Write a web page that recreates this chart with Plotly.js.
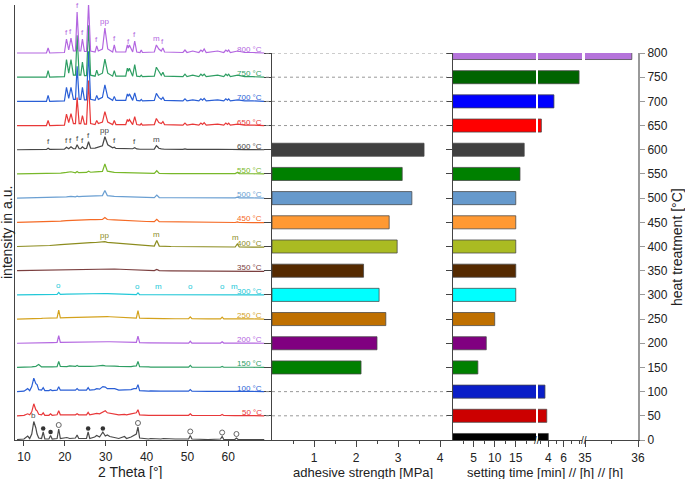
<!DOCTYPE html>
<html><head><meta charset="utf-8">
<script src="https://cdn.plot.ly/plotly-3.0.1.min.js"></script>
<style>html,body{margin:0;padding:0;background:#fff}#chart{width:685px;height:479px}</style>
</head><body><div id="chart"></div>
<script>
// ================= DATA =================
const temperatures = [0,50,100,150,200,250,300,350,400,450,500,550,600,650,700,750,800];
const adhesiveStrength = [null,null,null,2.12,2.50,2.71,2.55,2.18,2.98,2.79,3.33,3.10,3.62,null,null,null,null]; // MPa
const settingTimeMin = [240,228,214,6,8,10,15,15,15,15,15,16,17,186,284,480,2153]; // minutes

// XRD 2-theta grids
const thetaLow = [8.3,10.0,10.9,11.4,11.9,12.4,12.9,13.2,13.6,14.3,
 14.7,15.1,16.1,16.5,16.9,18.1,18.5,18.9,20.5,21.2,
 22.6,23.0,23.4,25.3,25.7,26.1,27.3,27.8,28.5,29.3,
 29.9,30.4,31.0,31.5,32.2,33.2,34.6,35.1,36.2,36.9,
 37.5,37.9,38.3,40.5,41.0,43.5,44.1,47.0,50.3,50.7,
 51.1,55.0,58.1,58.5,58.9,61.6,62.0,62.4,66.0,68.8];
const thetaMid = [8.3,12,15.5,15.9,16.3,19,20.4,21.5,22.6,23.0,
 23.4,24.3,25.3,25.8,26.3,27.5,29.2,29.8,30.4,32.1,
 35,37.1,40,41.9,42.5,43.1,46,50,55,61.7,
 62.2,62.7,66,68.8];
const thetaHigh = [8.3,12,15.5,15.9,16.3,19.9,20.4,20.95,21.5,22.1,
 22.6,23.0,23.5,23.9,24.3,24.8,25.3,25.8,26.3,27.4,
 27.8,28.2,29.2,29.8,30.5,31.7,32.1,32.5,34.9,35.3,
 35.55,35.8,36.6,37.1,37.6,38.4,38.7,39.0,41.9,42.4,
 42.7,43.0,43.6,44.0,44.4,48.9,49.4,49.9,51.3,52.8,
 53.3,53.7,54.1,54.6,57.4,58.9,59.4,59.8,60.1,60.5,
 62.3,64,66,68.8];

// XRD intensities (a.u.)
const xrd0 = [0.5,1,4,1.5,6,18.5,12,6,2,1.5, 8,1,1,4.5,1,1.5,11,1.5,2.5,1.5, 2,5,1.5,1.5,8,1.5,3,4.5,3,8, 4,5,3.5,3,2.5,1.5,3.5,1.5,3,5, 6,13,2,1,1.5,1,1.5,1,1,4.5, 1,0.5,1,3.5,0.5,0.5,2,0.5,0.5,0.3];
const xrd50 = [0,0.5,2,1,4,12,6,5,1.5,1, 3,0.5,0.5,2,0.5,1,5,1,1,1, 1,2,1,1,3.5,1,2,2.5,2,4, 5,3,2.5,2,2,1,1.5,1,2,2.5, 3,6,1,0.5,0.5,0.5,0.5,0.5,0.5,2, 0.5,0.3,0.3,1.3,0.3,0.2,0.5,0.2,0.2,0];
const xrd100 = [0,0.5,3,1,5,13.5,8,7,2,1.5, 4,1,1,2,1,1.5,5,1.5,1.5,1.5, 1.5,3,1.5,1.5,4,1.5,2,3,2.5,5, 4.5,3,3,2.5,3,1.5,2,1.5,2,3, 3,7,1,0.5,0.8,0.5,0.5,0.8,0.5,2, 0.5,0.3,0.3,1,0.3,0.2,0.5,0.2,0.2,0];
const xrd150 = [0,0,0.3,0.3,0.5,0.8,1,2,3,0.5, 0.8,0.5,0.5,0.8,0.5,0.8,6,1,0.8,1.5, 1,2,1,1,1.3,1,1.2,1.5,1.3,2, 1.5,1.5,1.3,2,1.3,1,0.8,0.8,0.8,1.3, 1.5,6,0.8,0.5,0.3,0.3,0.3,0.3,0.3,2, 0.3,0.2,0.2,1,0.2,0.2,0.3,0.2,0.2,0];
const xrd200 = [0,0,0.2,0.2,0.3,0.4,0.4,0.5,0.5,0.5, 0.6,0.6,0.7,0.7,0.7,0.8,7.5,0.8,1,1, 1.2,1.3,1.3,1.5,1.5,1.5,1.6,1.6,1.6,1.6, 1.6,1.5,1.5,1.4,1.3,1.2,1,0.9,0.8,0.8, 0.8,7.2,0.6,0.4,0.4,0.3,0.3,0.3,0.2,2, 0.2,0.2,0.2,1.5,0.2,0.1,0.2,0.1,0.1,0];
const xrd250 = [0,0,0.2,0.2,0.3,0.4,0.5,0.5,0.6,0.7, 0.8,0.8,1,1,1,1.2,9,1.2,1.5,1.6, 1.8,1.9,2,2.2,2.3,2.3,2.5,2.6,2.6,2.6, 2.5,2.4,2.3,2.2,2,1.8,1.4,1.3,1.1,1, 1,8.5,0.8,0.6,0.5,0.4,0.4,0.3,0.3,2.2, 0.3,0.2,0.2,2,0.2,0.1,0.2,0.1,0.1,0];
const xrd300 = [0,0,0,0,0.1,0.1,0.2,0.2,0.2,0.3, 0.3,0.3,0.4,0.4,0.4,0.5,2.5,0.5,0.7,0.8, 1,1.1,1.1,1.3,1.4,1.4,1.5,1.5,1.5,1.5, 1.4,1.3,1.2,1.1,1,0.8,0.5,0.4,0.3,0.3, 0.3,2,0.2,0.1,0.1,0.1,0.1,0.1,0,0.5, 0,0,0,0.3,0,0,0.3,0,0,0];
const xrd350 = [0,0.3,0.5,0.6,0.6,1,1.2,1.4,1.5,1.6, 1.6,1.7,1.8,1.8,1.8,1.9,2,2,1.9,1.7, 1.2,0.8,0.3,0.1,1.3,0.1,-0.1,-0.3,-0.4,-0.5, -0.4,-0.5,-0.6,-0.7];
const xrd400 = [0,0.3,0.8,1,1,1.8,2.3,2.7,3,3.2, 3.2,3.5,3.7,3.8,3.8,4,4.2,4.8,4.1,3.6, 2.3,1.6,0.8,0.4,6,0.4,0,-0.3,-0.4,-0.5, 2.5,-0.5,-0.6,-0.7];
const xrd450 = [0,0.2,0.5,0.7,0.7,1.2,1.6,1.9,2.1,2.2, 2.2,2.4,2.5,2.6,2.6,2.7,2.8,4.7,2.8,2.5, 1.6,1.2,0.8,0.6,3,0.6,0.4,0.2,0,-0.2, 0.5,-0.2,-0.3,-0.3];
const xrd500 = [0,0.2,0.3,0.5,0.4,0.8,1.2,1.8,1.3,2, 1.5,1.8,1.8,2.3,2,2.2,2.5,7.7,2.5,1.8, 1.2,1,0.6,0.5,3,0.6,0.4,0.3,0.3,0.3, 1,0.3,0.2,0];
const xrd550 = [0,0.2,0.3,0.8,0.4,0.8,1.5,2.2,1.2,2.5, 1.3,1.5,1.5,2.8,1.7,2,2.5,10,2.8,1.5, 1,1,0.5,0.5,3.2,0.6,0.4,0.3,0.3,0.3, 1.5,0.3,0.2,0];
const xrd600 = [0,0.3,0.3,1.5,0.4,0.5,2.5,1,3,1, 1,5,1,1,3,1.2,1.3,8,1.5,1.7, 2.2,2.5,4,13,5,2,2.5,1.3,1,1.5, 1,1.5,1,2,0.8,0.5,0.8,0.5,0.6,4, 3,1.5,0.8,1,0.5,0.3,0.8,0.3,0.5,0.3, 0.8,0.4,0.8,0.3,0.5,0.3,0.6,0.3,0.6,0.2, 0.5,0.2,0.2,0];
const xrd650 = [0,0,0,5,0, 0.5,11.5,3,12,2, 2,28,2,2,10, 1.5,1.5,45,2,1, 5,2,3.5,14,3.5, 1,5,1,1,6, 4,6,1,9,1, 0.5,2,0.5,1,7, 5,3,2,4,1, 0.5,2.5,0.5,1.5,0.5, 2.5,1.2,3,0.5,1.5, 0.5,2.5,1.2,2.5,0.5, 1.5,0.5,0.5,0];
const xrd700 = [0,0,0,6,0, 0.5,14,3,14,2, 2,35,2,2,14, 1.5,1.5,50,2,1, 6,2,4,16.5,4, 1,5,1,1,7.5, 5,7.5,1,8.5,1, 0.5,2,0.5,1,8, 6,4,2,4,1, 0.5,2.5,0.5,1.5,0.5, 2.5,1.2,3,0.5,1.5, 0.5,2.5,1.2,2.5,0.5, 1.5,0.5,0.5,0];
const xrd750 = [0,0,0,6.5,0, 0.5,17.5,4,17.5,2, 2,42,2,2,15, 1.5,1.5,52,2,1, 7,2,4,18,4, 1,6.5,1,1,9, 6,9,1,12.5,1, 0.5,2,0.5,1,10, 7,6,2,5,1, 0.5,3,0.5,2,0.5, 3,1.5,3,0.5,2, 0.5,3,1.5,3,0.5, 2,0.5,0.5,0];
const xrd800 = [0,0,0,5,0, 0.5,14,3,15,2, 2,41,2,2,14, 1.5,1.5,49,2,1, 7,2,4,25,4, 1,8,1,1,8, 5,8,1,12,1, 0.5,3,0.5,1,8, 6,4,2,5,1, 0.5,3,0.5,2,0.5, 3,1.5,4,0.5,2, 0.5,3,1.5,3,0.5, 2,0.5,0.5,0];

// Phase labels (2-theta position, text)
const labels800 = [[20.4,'f'],[21.5,'f'],[23.0,'f'],[24.3,'f'],[25.8,'f'],[27.8,'f'],[29.8,'pp'],[32.1,'f'],[35.55,'f'],[37.1,'f'],[42.4,'m'],[44.0,'f']];
const labels600 = [[15.9,'f'],[20.4,'f'],[21.5,'f'],[23.0,'f'],[24.3,'f'],[25.8,'f'],[29.8,'pp'],[32.1,'f'],[37.1,'f'],[42.4,'m']];
const labels400 = [[29.8,'pp'],[42.5,'m'],[61.7,'m']];
const labels300 = [[18.5,'o'],[37.9,'o'],[42.8,'m'],[50.7,'o'],[58.5,'o'],[61.6,'m']];
const labels0 = [[12.4,'b']];
const rawDotPos = [14.7,16.5,25.7,29.3];
const rawCirclePos = [18.5,37.9,50.7,58.5,62.0];

// ================= STYLE =================
const STACK = 800/387;           // a.u. -> axis units
const FONT = 'Arial, "Liberation Sans", sans-serif';
const W = 685, H = 479;
const px = v => v / W, py = v => (H - v) / H;
const curveColors = {0:'#4a4a4a',50:'#e8383a',100:'#2a5fd6',150:'#2e9e63',200:'#b366e0',250:'#d4a21c',300:'#22c8d8',350:'#7b3f3f',400:'#8c8c1e',450:'#f56a25',500:'#6a9fd2',550:'#78b82a',600:'#474747',650:'#e83838',700:'#2a5fd6',750:'#2e9e63',800:'#b366e0'};
const barColors = {0:'#000000',50:'#cc0000',100:'#0a1ec8',150:'#008000',200:'#800080',250:'#bf7000',300:'#00ffff',350:'#552a00',400:'#aabb22',450:'#ff9933',500:'#6699cc',550:'#008000',600:'#404040',650:'#ff0000',700:'#0000ff',750:'#006400',800:'#b574db'};

const xrdSets = [
  [0,thetaLow,xrd0],[50,thetaLow,xrd50],[100,thetaLow,xrd100],[150,thetaLow,xrd150],
  [200,thetaLow,xrd200],[250,thetaLow,xrd250],[300,thetaLow,xrd300],[350,thetaMid,xrd350],
  [400,thetaMid,xrd400],[450,thetaMid,xrd450],[500,thetaMid,xrd500],[550,thetaMid,xrd550],
  [600,thetaHigh,xrd600],[650,thetaHigh,xrd650],[700,thetaHigh,xrd700],[750,thetaHigh,xrd750],[800,thetaHigh,xrd800]
];
const setByT = {}; xrdSets.forEach(s => setByT[s[0]] = s);

function valAt(grid, vals, x) {
  let bi = 0;
  for (let i = 1; i < grid.length; i++) if (Math.abs(grid[i]-x) < Math.abs(grid[bi]-x)) bi = i;
  return vals[bi];
}

const traces = [];
const annotations = [];
xrdSets.forEach(([T, grid, vals]) => {
  traces.push({type:'scatter', mode:'lines', x: grid, y: vals.map(v => T + v*STACK),
    line:{color: curveColors[T], width:1.2}, xaxis:'x', yaxis:'y', hoverinfo:'skip'});
  if (T > 0) annotations.push({xref:'x', yref:'y', x: grid[grid.length-1], y: T + 3.5*STACK, text: T + ' °C',
    showarrow:false, xanchor:'right', yanchor:'middle', font:{family:FONT, size:8, color: curveColors[T]}});
});
function addLabels(T, list, minTip) {
  const [, grid, vals] = setByT[T];
  list.forEach(([x, t]) => {
    const tip = Math.max(valAt(grid, vals, x), minTip);
    annotations.push({xref:'x', yref:'y', x: x, y: T + tip*STACK, text: t, showarrow:false,
      xanchor:'center', yanchor:'bottom', font:{family:FONT, size:8, color: curveColors[T]}});
  });
}
addLabels(800, labels800, 0); addLabels(600, labels600, 0); addLabels(400, labels400, 3);
addLabels(300, labels300, 1.5); addLabels(0, labels0, 0);

traces.push({type:'scatter', mode:'markers', x: rawDotPos, y: rawDotPos.map(x => valAt(thetaLow, xrd0, x)*STACK + 3.5*STACK),
  marker:{symbol:'circle', size:4.5, color:'#333'}, xaxis:'x', yaxis:'y', hoverinfo:'skip'});
traces.push({type:'scatter', mode:'markers', x: rawCirclePos, y: rawCirclePos.map(x => valAt(thetaLow, xrd0, x)*STACK + 4*STACK),
  marker:{symbol:'circle-open', size:5, color:'#666', line:{width:1}}, xaxis:'x', yaxis:'y', hoverinfo:'skip'});

// Bars
const bColors = temperatures.map(t => barColors[t]);
const barLine = {color:'rgba(70,70,70,0.75)', width:1};
traces.push({type:'bar', orientation:'h', y: temperatures, x: adhesiveStrength, width:27,
  marker:{color:bColors, line:barLine}, xaxis:'x2', yaxis:'y2', hoverinfo:'skip'});
traces.push({type:'bar', orientation:'h', y: temperatures, x: settingTimeMin, width:27,
  marker:{color:bColors, line:barLine}, xaxis:'x3', yaxis:'y3', hoverinfo:'skip'});
const hours = settingTimeMin.map(v => v/60);
traces.push({type:'bar', orientation:'h', y: temperatures, x: hours, width:27,
  marker:{color:bColors, line:barLine}, xaxis:'x4', yaxis:'y4', hoverinfo:'skip'});
traces.push({type:'bar', orientation:'h', y: temperatures, x: hours, width:27,
  marker:{color:bColors, line:barLine}, xaxis:'x5', yaxis:'y5', hoverinfo:'skip'});

// dotted guide lines where no adhesive strength was measured
const shapes = [];
temperatures.forEach((t, i) => {
  if (adhesiveStrength[i] === null && t > 0) shapes.push({type:'line', xref:'paper', yref:'y2',
    x0: px(266), x1: px(447), y0: t, y1: t, line:{color:'#999', width:1, dash:'dot'}});
});

const tf = {family:FONT, size:12, color:'#222'};
const base = {showgrid:false, zeroline:false, showline:true, linecolor:'#444', linewidth:1.3,
  ticks:'outside', tickcolor:'#444', tickfont:tf, fixedrange:true};
const yDom = [py(440), py(53)];
function ann(x, y, text, size, angle) {
  return {xref:'paper', yref:'paper', x:px(x), y:py(y), text:text, textangle:angle||0, showarrow:false,
    xanchor:'center', yanchor:'middle', font:{family:FONT, size:size, color:'#222'}};
}
const layout = {
  width:W, height:H, margin:{l:0,r:0,t:0,b:0}, showlegend:false, barmode:'overlay',
  paper_bgcolor:'#fff', plot_bgcolor:'rgba(0,0,0,0)',
  xaxis: Object.assign({}, base, {domain:[px(15), px(272)], range:[7.8,70.7], anchor:'y', tickvals:[10,20,30,40,50,60], ticklen:5}),
  yaxis: Object.assign({}, base, {domain:[py(440), py(5)], range:[0, 435*STACK], anchor:'x', ticks:'', showticklabels:false, linewidth:1.5}),
  xaxis2: Object.assign({}, base, {domain:[px(272), px(453)], range:[0, 181/42], anchor:'y2', tickvals:[1,2,3,4], ticklen:6,
    minor:{tickvals:[0.5,1.5,2.5,3.5], ticks:'outside', ticklen:3, tickcolor:'#444'}}),
  yaxis2: Object.assign({}, base, {domain:yDom, range:[0,800], anchor:'x2', side:'left', tick0:0, dtick:50, ticklen:7, showticklabels:false}),
  xaxis3: Object.assign({}, base, {domain:[px(453), px(536)], range:[0.1,19.8], anchor:'y3', tickvals:[5,10,15], ticklen:6,
    minor:{tickvals:[2.5,7.5,12.5,17.5], ticks:'outside', ticklen:3, tickcolor:'#444'}}),
  yaxis3: Object.assign({}, base, {domain:yDom, range:[0,800], anchor:'x3', side:'left', tick0:0, dtick:50, ticklen:6, showticklabels:false}),
  xaxis4: Object.assign({}, base, {domain:[px(538), px(582)], range:[2.66,8.38], anchor:'y4', tickvals:[4,6], ticklen:6,
    minor:{tickvals:[3,5,7,8], ticks:'outside', ticklen:3, tickcolor:'#444'}}),
  yaxis4: {domain:yDom, range:[0,800], anchor:'x4', visible:false, fixedrange:true},
  xaxis5: Object.assign({}, base, {domain:[px(585), px(638)], range:[35,36], anchor:'y5', tickvals:[35,36], ticklen:6,
    minor:{tickvals:[35.5], ticks:'outside', ticklen:3, tickcolor:'#444'}}),
  yaxis5: Object.assign({}, base, {domain:yDom, range:[0,800], anchor:'x5', side:'right', tick0:0, dtick:50, ticklen:5,
    linecolor:'#999', linewidth:2, tickcolor:'#999'}),
  shapes: shapes,
  annotations: annotations.concat([
    ann(7, 233, 'intensity in a.u.', 14, -90),
    ann(130, 472, '2 Theta [°]', 14),
    ann(363, 472, 'adhesive strength [MPa]', 13),
    ann(545, 472, 'setting time [min] // [h] // [h]', 13),
    ann(677, 247, 'heat treatment [°C]', 14, -90),
    ann(537, 440, '//', 10),
    ann(583.5, 440, '//', 10)
  ])
};
Plotly.newPlot('chart', traces, layout, {staticPlot:true, displayModeBar:false});
</script></body></html>
